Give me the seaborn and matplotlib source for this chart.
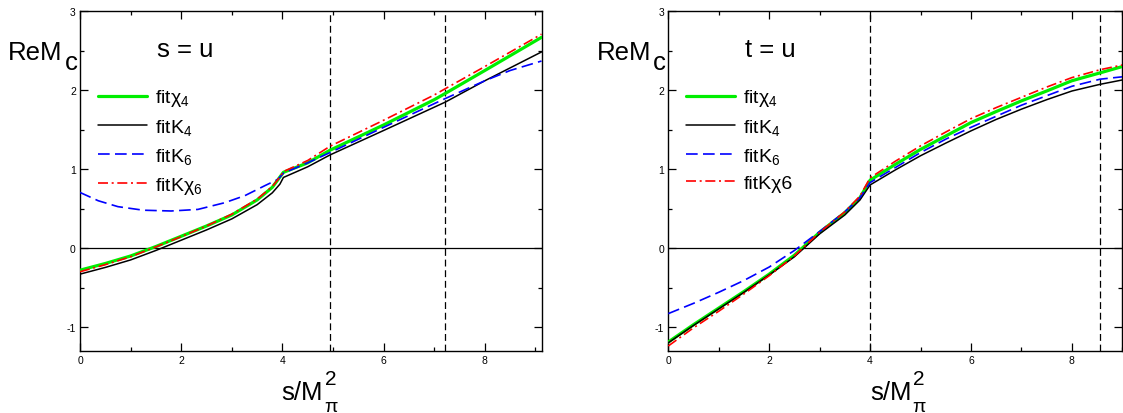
import numpy as np
import pandas as pd
import matplotlib
matplotlib.use("Agg")
import matplotlib.pyplot as plt
from matplotlib.ticker import MultipleLocator
import seaborn as sns

# ---------------- data ----------------
# left panel: s = u
l_x_chi4 = [0, 0.5, 1, 1.5, 2, 2.5, 3, 3.5, 3.8, 3.95, 4.02, 4.5, 4.94, 6, 7, 7.22, 8, 9.12]
l_y_chi4 = [-0.28, -0.195, -0.10, 0.02, 0.15, 0.28, 0.42, 0.61, 0.77, 0.90, 0.96, 1.08, 1.24, 1.56, 1.88, 1.96, 2.25, 2.67]
l_x_k4 = [0, 0.5, 1, 1.5, 2, 2.5, 3, 3.5, 3.8, 3.95, 4.02, 4.5, 4.94, 6, 7, 7.22, 8, 9.12]
l_y_k4 = [-0.33, -0.245, -0.15, -0.03, 0.10, 0.23, 0.37, 0.55, 0.70, 0.81, 0.895, 1.03, 1.18, 1.49, 1.785, 1.85, 2.12, 2.485]
l_x_k6 = [0, 0.36, 0.75, 1.25, 1.8, 2.33, 2.86, 3.26, 3.65, 3.91, 4.02, 4.5, 4.94, 6, 7, 7.22, 8, 8.5, 9.12]
l_y_k6 = [0.705, 0.60, 0.525, 0.48, 0.47, 0.49, 0.575, 0.665, 0.79, 0.87, 0.95, 1.08, 1.21, 1.53, 1.83, 1.895, 2.12, 2.25, 2.37]
l_x_kchi6 = [0, 0.5, 1, 1.5, 2, 2.5, 3, 3.5, 3.8, 3.95, 4.02, 4.5, 4.94, 6, 7, 7.22, 8, 9.12]
l_y_kchi6 = [-0.30, -0.21, -0.11, 0.015, 0.145, 0.28, 0.43, 0.62, 0.78, 0.90, 0.97, 1.11, 1.29, 1.62, 1.94, 2.02, 2.30, 2.71]
l_vlines = [4.94, 7.22]

# right panel: t = u
r_x = [0, 0.5, 1, 1.5, 2, 2.5, 3, 3.5, 3.8, 4.0, 4.5, 5, 5.5, 6, 6.5, 7, 7.5, 8, 8.56, 9]
r_y_chi4 = [-1.19, -0.97, -0.76, -0.55, -0.33, -0.09, 0.20, 0.45, 0.64, 0.86, 1.06, 1.25, 1.42, 1.59, 1.73, 1.865, 1.99, 2.12, 2.22, 2.30]
r_y_k4 = [-1.20, -0.98, -0.77, -0.56, -0.34, -0.11, 0.18, 0.42, 0.61, 0.80, 0.99, 1.17, 1.33, 1.485, 1.63, 1.76, 1.88, 1.99, 2.075, 2.13]
r_y_k6 = [-0.83, -0.70, -0.56, -0.41, -0.24, -0.03, 0.21, 0.46, 0.64, 0.83, 1.02, 1.21, 1.38, 1.53, 1.67, 1.81, 1.93, 2.05, 2.14, 2.17]
r_y_kchi6 = [-1.24, -1.01, -0.80, -0.58, -0.35, -0.10, 0.20, 0.46, 0.66, 0.89, 1.10, 1.295, 1.47, 1.64, 1.78, 1.91, 2.04, 2.16, 2.26, 2.32]
r_vlines = [4.0, 8.56]

labels_left = ["fit\u03c7$_4$", "fitK$_4$", "fitK$_6$", "fitK\u03c7$_6$"]
labels_right = ["fit\u03c7$_4$", "fitK$_4$", "fitK$_6$", "fitK\u03c76"]
panel_titles = ["s = u", "t = u"]

# ---------------- style ----------------
sns.set_style("ticks")
plt.rcParams["font.family"] = ["Liberation Sans", "DejaVu Sans"]
plt.rcParams["mathtext.fontset"] = "custom"
plt.rcParams["mathtext.rm"] = "Liberation Sans"
plt.rcParams["mathtext.it"] = "Liberation Sans:italic"
plt.rcParams["mathtext.bf"] = "Liberation Sans:bold"
plt.rcParams["mathtext.default"] = "rm"
plt.rcParams["axes.unicode_minus"] = False
for key in ["text.color", "axes.labelcolor", "xtick.color", "ytick.color",
            "xtick.labelcolor", "ytick.labelcolor", "axes.edgecolor", "legend.labelcolor"]:
    plt.rcParams[key] = "black"

styles = [
    dict(color="#00ee00", lw=2.3, ls="-"),
    dict(color="#000000", lw=1.1, ls="-"),
    dict(color="#0000ff", lw=1.2, ls=(0, (7, 3.2))),
    dict(color="#ff0000", lw=1.2, ls=(0, (6, 2.2, 1.2, 2.2))),
]

fig = plt.figure(figsize=(11.23, 4.14), dpi=100)
ax1 = fig.add_axes([80 / 1123, 1 - 351.7 / 414, 461.5 / 1123, 339.4 / 414])
ax2 = fig.add_axes([668.3 / 1123, 1 - 351.7 / 414, 454 / 1123, 339.4 / 414])

panels = [
    (ax1, [(l_x_chi4, l_y_chi4), (l_x_k4, l_y_k4), (l_x_k6, l_y_k6), (l_x_kchi6, l_y_kchi6)],
     labels_left, l_vlines, 9.12),
    (ax2, [(r_x, r_y_chi4), (r_x, r_y_k4), (r_x, r_y_k6), (r_x, r_y_kchi6)],
     labels_right, r_vlines, 9.0),
]


def ptext(ax, anchor, off, s, size):
    ax.annotate(s, xy=anchor, xycoords="axes fraction", xytext=off,
                textcoords="offset pixels", fontsize=size, ha="left",
                va="baseline", annotation_clip=False, color="black")


for (ax, series, labels, vls, xmax), title in zip(panels, panel_titles):
    ax.axhline(0, color="black", lw=0.9, zorder=1)
    for v in vls:
        ax.axvline(v, color="black", lw=0.9, ls=(0, (5.5, 3)), zorder=1)
    handles = []
    for (xs, ys), st, lab in zip(series, styles, labels):
        df = pd.DataFrame({"x": xs, "y": ys})
        sns.lineplot(data=df, x="x", y="y", ax=ax, color=st["color"], lw=st["lw"],
                     estimator=None, sort=False, label=lab, zorder=3)
        ln = ax.get_lines()[-1]
        ln.set_linestyle(st["ls"])
        handles.append(ln)
    ax.set_xlim(0, xmax)
    ax.set_ylim(-1.3, 3)
    ax.set_xlabel("")
    ax.set_ylabel("")
    ax.xaxis.set_major_locator(MultipleLocator(2))
    ax.xaxis.set_minor_locator(MultipleLocator(1))
    ax.yaxis.set_major_locator(MultipleLocator(1))
    ax.yaxis.set_minor_locator(MultipleLocator(0.5))
    ax.tick_params(which="both", direction="in", top=True, right=True,
                   labelsize=7.5, width=0.9, colors="black", pad=3)
    ax.tick_params(which="major", length=5.5)
    ax.tick_params(which="minor", length=3)
    for sp in ax.spines.values():
        sp.set_linewidth(1.0)
        sp.set_color("black")
    ax.legend(handles=handles, labels=labels, loc="upper left",
              bbox_to_anchor=(0.039, 0.776), frameon=False, fontsize=14,
              handlelength=2.5, handletextpad=0.45, labelspacing=0.45,
              borderaxespad=0, borderpad=0, labelcolor="black")
    # y label "ReM" with a lowered "c"
    ptext(ax, (0, 1), (-71.7, -47.7), "ReM", 18.5)
    ptext(ax, (0, 1), (-15, -57.5), "c", 18.5)
    # panel title
    ptext(ax, (0, 1), (76.7, -45.0), title, 18.5)
    # x label "s/M" with pi subscript and 2 superscript
    ptext(ax, (0, 0), (201.7, -48.3), "s/M", 18.5)
    ptext(ax, (0, 0), (245.0, -33.5), "2", 15)
    ptext(ax, (0, 0), (244.0, -60.0), "\u03c0", 14)

fig.savefig("out.png", dpi=100)
